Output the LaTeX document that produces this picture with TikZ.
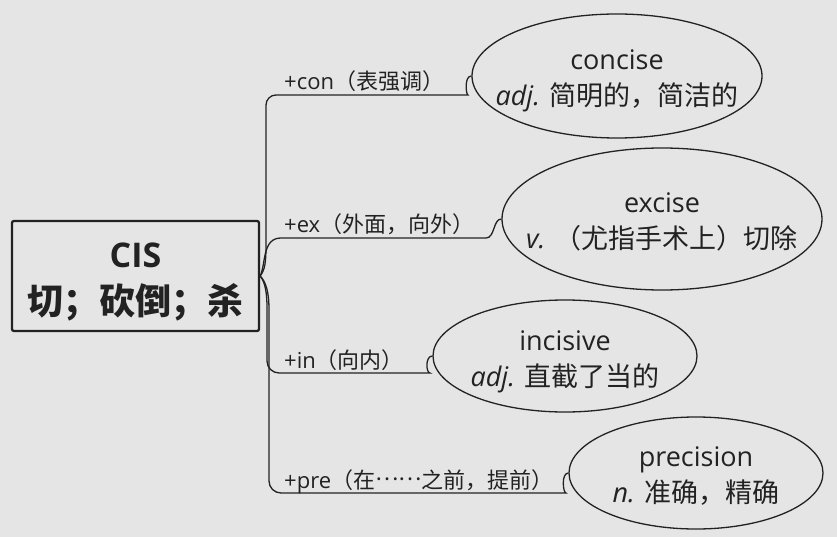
\documentclass[tikz,border=0pt]{standalone}
\usepackage{fontspec}
\setmainfont{Open Sans}
\newfontfamily\cjk{Noto Sans CJK SC}
\usepackage{tikz}
\usetikzlibrary{shapes.geometric}

\definecolor{paper}{RGB}{229,229,229}
\definecolor{ink}{RGB}{34,34,34}

\tikzset{
  rootbox/.style={draw=ink, line width=2.3pt, rounded corners=2pt, minimum width=247pt, minimum height=110pt, align=center, text=ink, font=\fontsize{36}{47}\selectfont\bfseries},
  word/.style={ellipse, draw=ink, line width=1.3pt, inner sep=0pt},
  wordtext/.style={align=center, text=ink, inner sep=0pt, font=\fontsize{27}{36}\selectfont},
  prelabel/.style={anchor=base west, inner sep=0pt, text=ink, font=\fontsize{22}{26}\selectfont},
  branch/.style={draw=ink, line width=1.3pt},
}

\begin{document}
\begin{tikzpicture}[x=1pt, y=-1pt]
    \fill[paper] (0,0) rectangle (837,537);
    \useasboundingbox (0,0) rectangle (837,537);

    % root
    \node[rootbox] (cis) at (135.5,276) {{\fontsize{34}{47}\selectfont\rule{0pt}{37pt}CIS}\\{\cjk 切；砍倒；杀}};

    % words
    \node[word, minimum width=290pt, minimum height=124pt] (concise) at (617,76) {};
    \node[wordtext] at ([yshift=-5pt]concise.center) {concise\\{\itshape adj.} {\cjk 简明的，简洁的}};

    \node[word, minimum width=320pt, minimum height=142pt] (excise) at (662,219) {};
    \node[wordtext] at ([yshift=-3pt]excise.center) {excise\\{\itshape v.} {\cjk （尤指手术上）切除}};

    \node[word, minimum width=264pt, minimum height=112pt] (incisive) at (565,356) {};
    \node[wordtext] at ([yshift=-6pt]incisive.center) {incisive\\{\itshape adj.} {\cjk 直截了当的}};

    \node[word, minimum width=254pt, minimum height=112pt] (precision) at (696,473) {};
    \node[wordtext] at ([yshift=-3pt]precision.center) {precision\\{\itshape n.} {\cjk 准确，精确}};

    % prefixes
    \node[prelabel] (pcon) at (284,90) {+con{\cjk （表强调）}};
    \node[prelabel] (pex) at (284,233) {+ex{\cjk （外面，向外）}};
    \node[prelabel] (pin) at (284,368) {+in{\cjk （向内）}};
    \node[prelabel] (ppre) at (284,488) {+pre{\cjk （在\raisebox{0.33em}{……}之前，提前）}};

    % branches
    \draw[branch] (cis.east) .. controls (265,270) and (266,262) .. (266,245)
        [rounded corners=10pt] -- (266,95) -- (458,95) [sharp corners]
        .. controls (466,95) and (464,76) .. (concise.west);
    \draw[branch] (cis.east) .. controls (266,264) and (262,238) .. (281,238)
        -- (486,238) .. controls (495,238) and (493,219) .. (excise.west);
    \draw[branch] (cis.east) .. controls (265,282) and (267,292) .. (267,308)
        [rounded corners=12pt] -- (267,373) -- (418,373) [sharp corners]
        .. controls (426,373) and (425,356) .. (incisive.west);
    \draw[branch] (cis.east) .. controls (266,282) and (269,292) .. (269,310)
        [rounded corners=12pt] -- (269,493) -- (554,493) [sharp corners]
        .. controls (563,493) and (561,473) .. (precision.west);
\end{tikzpicture}
\end{document}
